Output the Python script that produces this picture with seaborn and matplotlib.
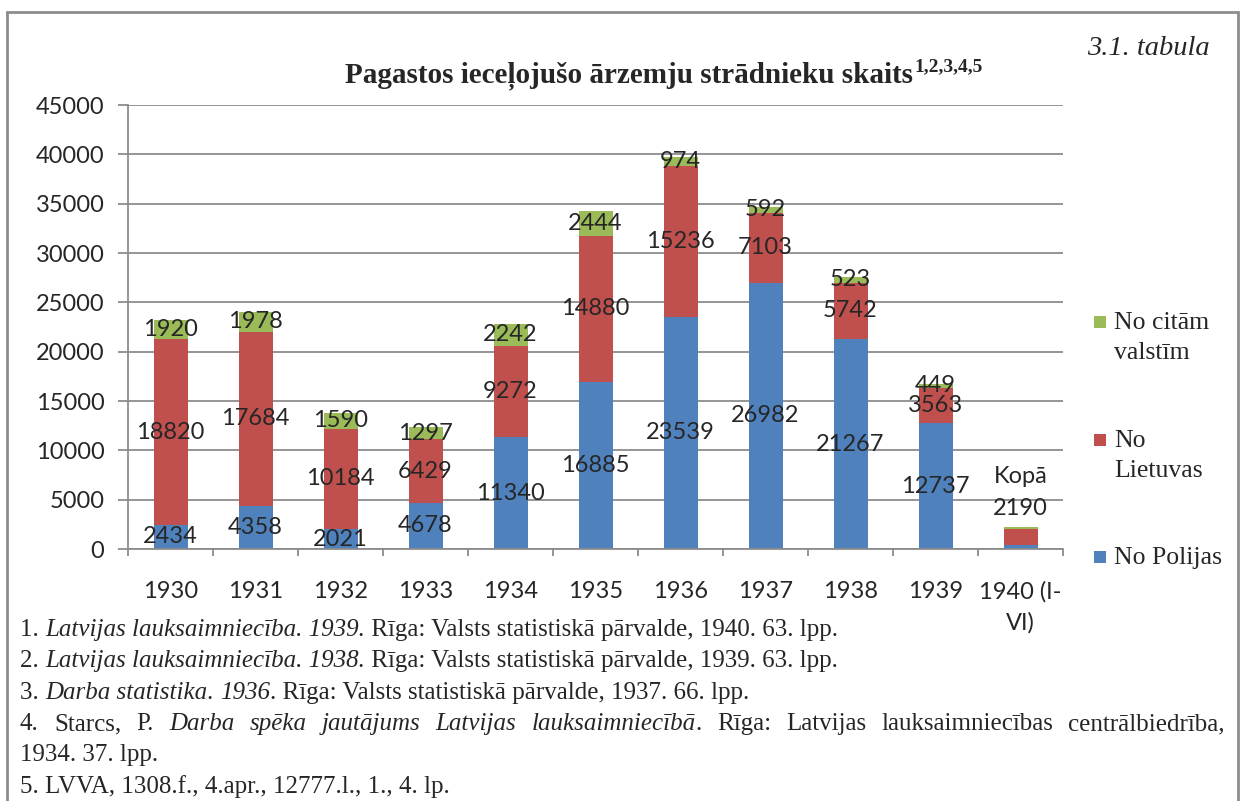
import numpy as np
import pandas as pd
import matplotlib
matplotlib.use("Agg")
import matplotlib.pyplot as plt
import seaborn as sns
from matplotlib.patches import Rectangle

# ---------------- data ----------------
years = ["1930", "1931", "1932", "1933", "1934", "1935", "1936",
         "1937", "1938", "1939", "1940 (I-\nVI)"]
no_polijas = [2434, 4358, 2021, 4678, 11340, 16885, 23539, 26982, 21267, 12737, 400]
no_lietuvas = [18820, 17684, 10184, 6429, 9272, 14880, 15236, 7103, 5742, 3563, 1600]
no_citam = [1920, 1978, 1590, 1297, 2242, 2444, 974, 592, 523, 449, 190]
labelled = [True] * 10 + [False]
series_names = ["No Polijas", "No Lietuvas", "No citām valstīm"]
legend_lines = [["No citām", "valstīm"], ["No", "Lietuvas"], ["No Polijas"]]
total_word = "Kopā"
y_ticks = list(range(0, 45001, 5000))

title_main = "Pagastos ieceļojušo ārzemju strādnieku skaits"
title_sup = "1,2,3,4,5"
table_tag = "3.1. tabula"
footnotes = [
    [("1. ", "normal"), ("Latvijas lauksaimniecība. 1939.", "italic"),
     (" Rīga: Valsts statistiskā pārvalde, 1940. 63. lpp.", "normal")],
    [("2. ", "normal"), ("Latvijas lauksaimniecība. 1938.", "italic"),
     (" Rīga: Valsts statistiskā pārvalde, 1939. 63. lpp.", "normal")],
    [("3. ", "normal"), ("Darba statistika", "italic"), (". ", "normal"), ("1936", "italic"),
     (". Rīga: Valsts statistiskā pārvalde, 1937. 66. lpp.", "normal")],
    [("4. Starcs, P. ", "normal"), ("Darba spēka jautājums Latvijas lauksaimniecībā", "italic"),
     (". Rīga: Latvijas lauksaimniecības centrālbiedrība,", "normal")],
    [("1934. 37. lpp.", "normal")],
    [("5. LVVA, 1308.f., 4.apr., 12777.l., 1., 4. lp.", "normal")],
]
justified = [False, False, False, True, False, False]

BLUE, RED, GREEN = "#4F81BD", "#C0504D", "#9BBB59"
GRAY = "#8c8c8c"
LBL = 17

# ---------------- style ----------------
sns.set_style("white")
plt.rcParams["font.family"] = ["Lato", "DejaVu Sans"]
SERIF = ["Liberation Serif", "DejaVu Serif"]

W, H = 1240, 801
fig = plt.figure(figsize=(W / 100, H / 100), dpi=100)
fig.patch.set_facecolor("white")


def fx(px):
    return px / W


def fy(py):
    return 1 - py / H


ax = fig.add_axes([fx(128), fy(549), (1063 - 128) / W, (549 - 105) / H])

df = pd.DataFrame({"year": years, "pol": no_polijas, "lit": no_lietuvas, "cit": no_citam})
df["s2"] = df["pol"] + df["lit"]
df["s3"] = df["s2"] + df["cit"]

for col, c in [("s3", GREEN), ("s2", RED), ("pol", BLUE)]:
    sns.barplot(data=df, x="year", y=col, order=years, color=c, saturation=1,
                width=0.4, errorbar=None, linewidth=0, edgecolor="none", ax=ax)

ax.set_axisbelow(True)
ax.set_xlim(-0.5, len(years) - 0.5)
ax.set_ylim(0, 45000)
ax.set_yticks(y_ticks)
ax.set_yticklabels([str(v) for v in y_ticks])
ax.set_xlabel("")
ax.set_ylabel("")
ax.yaxis.grid(True, color=GRAY, lw=1.3)
ax.xaxis.grid(False)
for s in ["top", "right"]:
    ax.spines[s].set_visible(False)
for s in ["left", "bottom"]:
    ax.spines[s].set_color(GRAY)
    ax.spines[s].set_linewidth(1.3)

ax.tick_params(axis="y", length=7, width=1.3, color=GRAY, pad=10, labelsize=LBL, left=True)
ax.tick_params(axis="x", which="major", length=0, pad=23, labelsize=LBL)
for lab in ax.get_xticklabels():
    lab.set_linespacing(1.55)
ax.set_xticks(np.arange(-0.5, len(years), 1.0), minor=True)
ax.tick_params(axis="x", which="minor", length=5, width=1.3, color=GRAY, bottom=True)

# data labels (centered in each segment)
for i, row in df.iterrows():
    if not labelled[i]:
        continue
    ax.text(i, row["pol"] / 2, str(row["pol"]), ha="center", va="center", fontsize=LBL)
    ax.text(i, row["pol"] + row["lit"] / 2, str(row["lit"]), ha="center", va="center", fontsize=LBL)
    ax.text(i, row["s2"] + row["cit"] / 2, str(row["cit"]), ha="center", va="center", fontsize=LBL)

for i, row in df.iterrows():
    if labelled[i]:
        continue
    ax.annotate(f"{total_word}\n{int(row['s3'])}", xy=(i, row["s3"]), xytext=(0, 6),
                textcoords="offset points", ha="center", va="bottom", fontsize=LBL,
                linespacing=1.65)

# ---------------- title ----------------
renderer = fig.canvas.get_renderer()
t = fig.text(fx(345), fy(82), title_main, family=SERIF, fontweight="bold", fontsize=21,
             ha="left", va="baseline")
bb = t.get_window_extent(renderer)
fig.text(bb.x1 / W + 0.001, fy(71), title_sup, family=SERIF, fontweight="bold", fontsize=14,
         ha="left", va="baseline")
fig.text(fx(1210), fy(55), table_tag, family=SERIF, style="italic", fontsize=20.5,
         ha="right", va="baseline")

# ---------------- legend (Excel style, handle beside first line) ----------------
leg_colors = [GREEN, RED, BLUE]
leg_y = [322, 440, 557]
for lines, c, yc in zip(legend_lines, leg_colors, leg_y):
    fig.add_artist(Rectangle((fx(1094), fy(yc + 6)), 12 / W, 12 / H,
                             transform=fig.transFigure, facecolor=c, edgecolor="none"))
    for k, ln in enumerate(lines):
        fig.text(fx(1114), fy(yc + 7 + 30 * k), ln, family=SERIF, fontsize=18.5,
                 ha="left", va="baseline")

# ---------------- footnotes ----------------
FN = 18
fn_y = [629, 660, 692, 723, 754, 786]


def measure(txt, st):
    tmp = fig.text(0, 0, txt, family=SERIF, style=st, fontsize=FN)
    w = tmp.get_window_extent(renderer).width
    tmp.remove()
    return w


for segs, yc, just in zip(footnotes, fn_y, justified):
    if not just:
        x = 20
        for txt, st in segs:
            tt = fig.text(fx(x), fy(yc + 7), txt, family=SERIF, style=st, fontsize=FN,
                          ha="left", va="baseline")
            x = tt.get_window_extent(renderer).x1
    else:
        # build word list: words separated by spaces; pieces within a word may change style
        words = [[]]
        for txt, st in segs:
            parts = txt.split(" ")
            for k, p in enumerate(parts):
                if k > 0:
                    words.append([])
                if p:
                    words[-1].append((p, st))
        words = [w for w in words if w]
        widths = [sum(measure(p, st) for p, st in w) for w in words]
        target = 1225 - 20
        gap = (target - sum(widths)) / (len(words) - 1)
        x = 20
        for w, ww in zip(words, widths):
            xx = x
            for p, st in w:
                tt = fig.text(fx(xx), fy(yc + 7), p, family=SERIF, style=st, fontsize=FN,
                              ha="left", va="baseline")
                xx = tt.get_window_extent(renderer).x1
            x += ww + gap

# ---------------- frame ----------------
fig.add_artist(Rectangle((fx(7), fy(810)), (1238 - 7) / W, (810 - 12) / H,
                         transform=fig.transFigure, fill=False, edgecolor=GRAY, lw=2))

fig.savefig("out.png", dpi=100)
